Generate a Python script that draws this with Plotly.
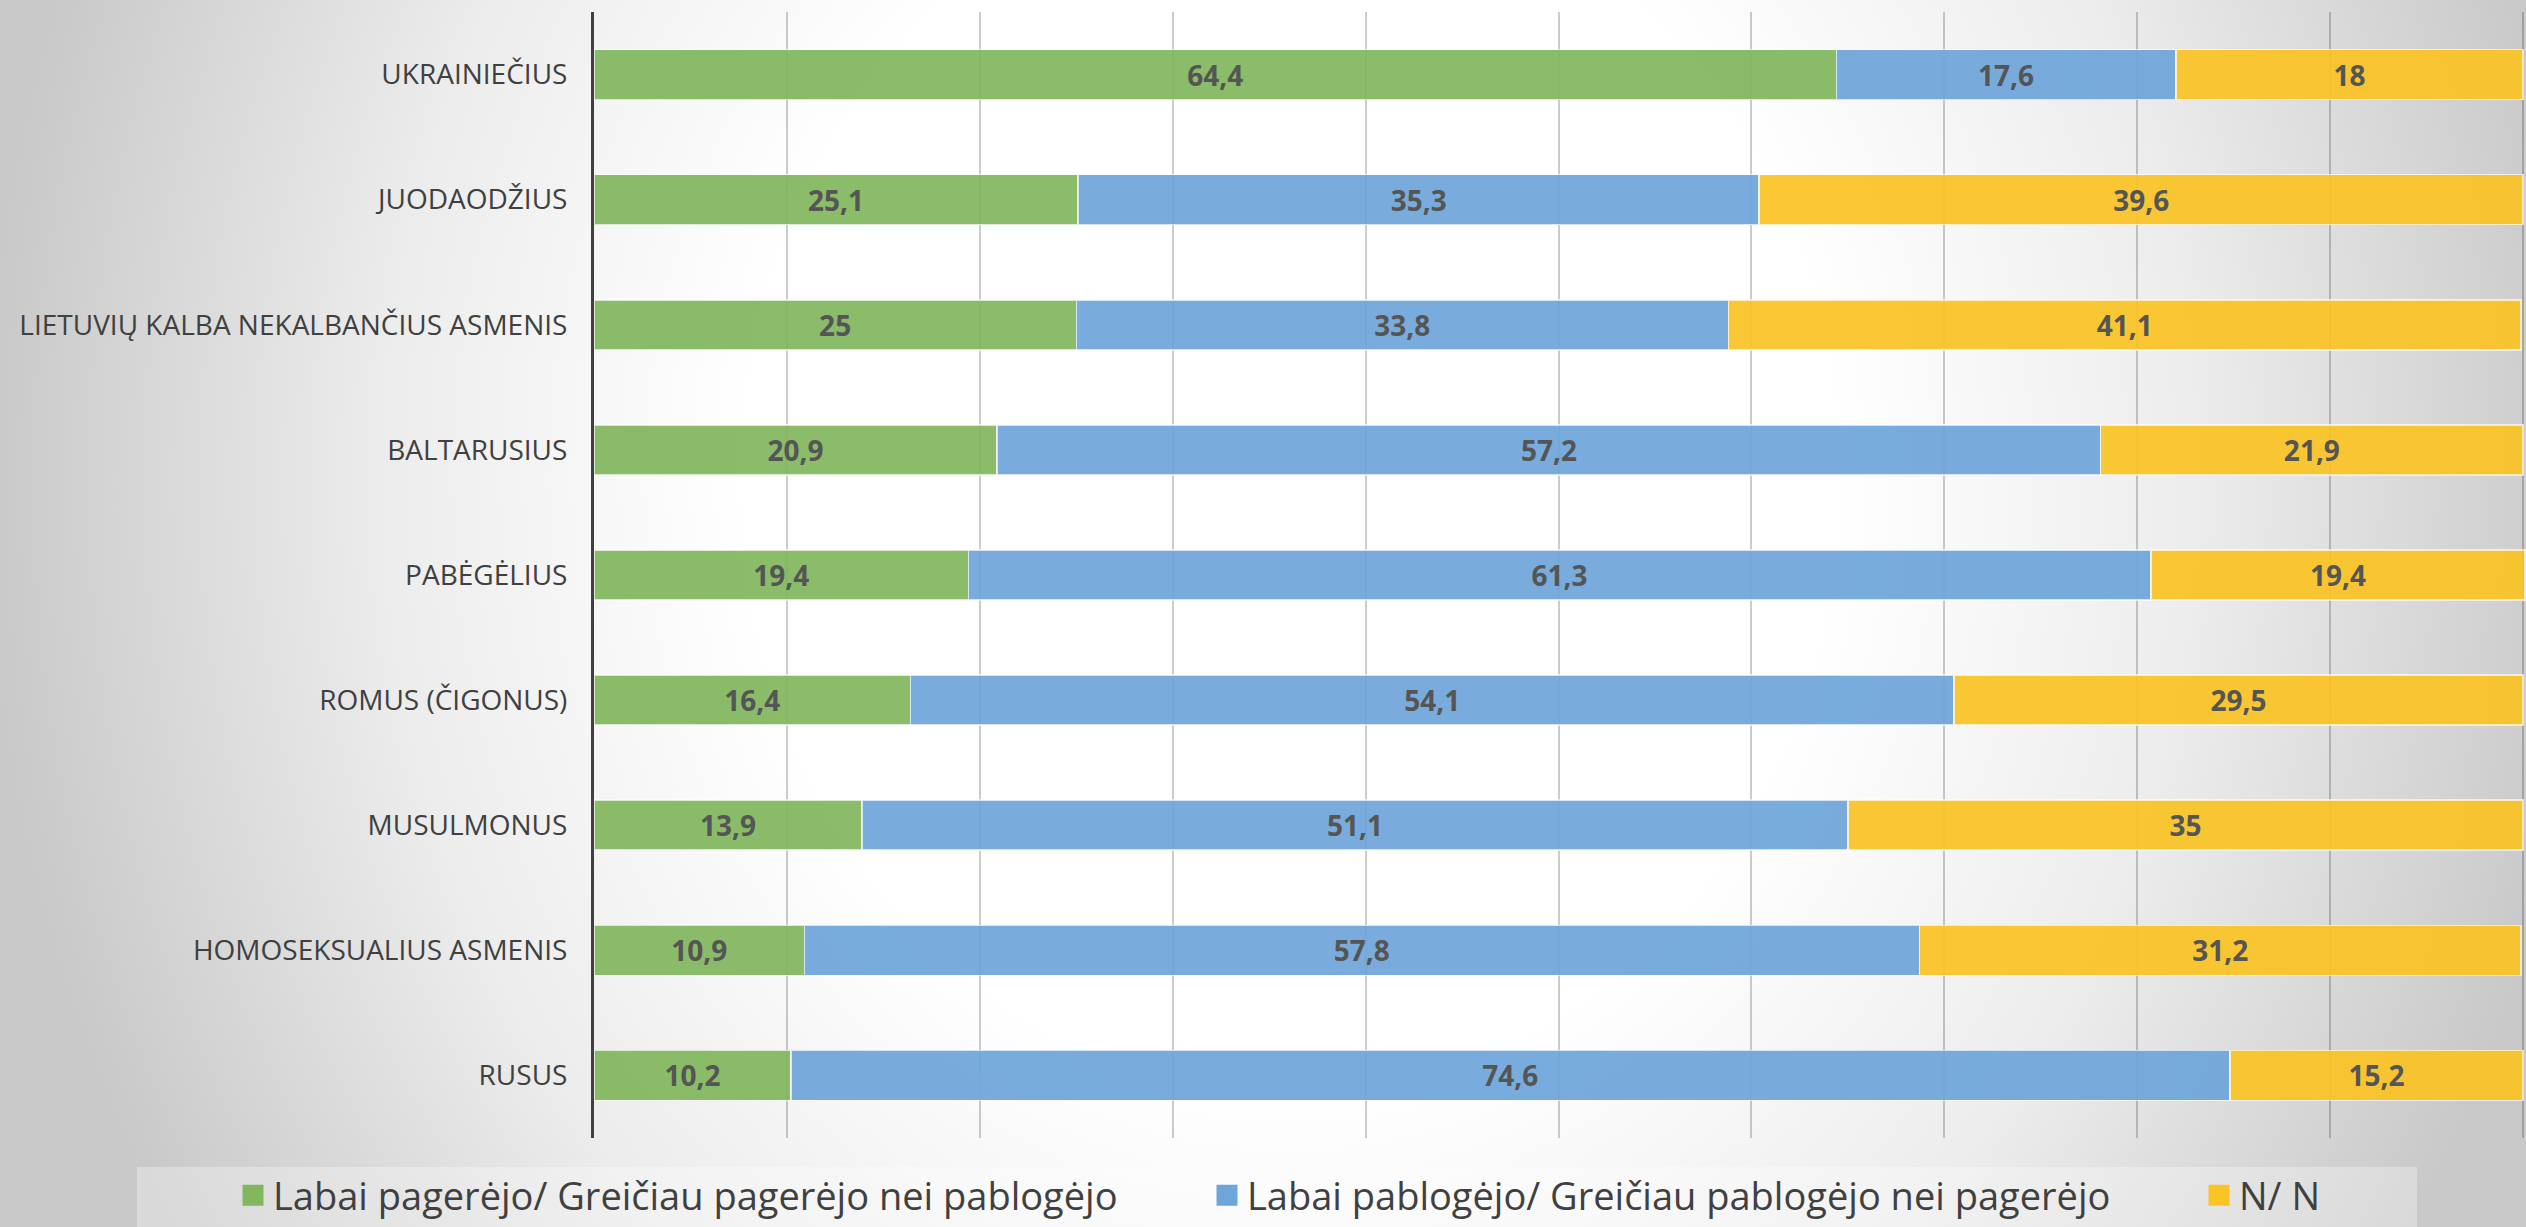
import base64
import plotly.graph_objects as go

categories = ["UKRAINIEČIUS", "JUODAODŽIUS", "LIETUVIŲ KALBA NEKALBANČIUS ASMENIS",
              "BALTARUSIUS", "PABĖGĖLIUS", "ROMUS (ČIGONUS)", "MUSULMONUS",
              "HOMOSEKSUALIUS ASMENIS", "RUSUS"]
improved = [64.4, 25.1, 25, 20.9, 19.4, 16.4, 13.9, 10.9, 10.2]
worsened = [17.6, 35.3, 33.8, 57.2, 61.3, 54.1, 51.1, 57.8, 74.6]
dont_know = [18, 39.6, 41.1, 21.9, 19.4, 29.5, 35, 31.2, 15.2]
series_names = ["Labai pagerėjo/ Greičiau pagerėjo nei pablogėjo",
                "Labai pablogėjo/ Greičiau pablogėjo nei pagerėjo",
                "N/ N"]
colors = ["#82b75e", "#6fa6da", "#fbc426"]

W, H = 2526, 1227
L, R, T, B = 594, 0, 12, 89
pw, ph = W - L - R, H - T - B

FONT = "Open Sans, sans-serif"

def lt(v):
    return f"{v:g}".replace(".", ",")

# gradient background as an svg picture (white in the middle, grey to the sides)
svg = f'''<svg xmlns="http://www.w3.org/2000/svg" width="{W}" height="{H}" preserveAspectRatio="none">
<defs><radialGradient id="g" gradientUnits="userSpaceOnUse" cx="1290" cy="480" r="1300"
gradientTransform="translate(1290 480) scale(1 1.12) translate(-1290 -480)">
<stop offset="0" stop-color="#ffffff"/><stop offset="0.42" stop-color="#ffffff"/>
<stop offset="0.7" stop-color="#ececec"/>
<stop offset="1" stop-color="#c9c9c9"/></radialGradient></defs>
<rect width="{W}" height="{H}" fill="url(#g)"/></svg>'''
bg_src = "data:image/svg+xml;base64," + base64.b64encode(svg.encode()).decode()

legend_ids = ["legend", "legend2", "legend3"]
legend_left = [233, 1207, 2199]  # pixel start of each legend entry

fig = go.Figure()
for name, vals, col, lg in zip(series_names, [improved, worsened, dont_know], colors, legend_ids):
    fig.add_trace(go.Bar(
        y=categories, x=vals, orientation="h", name=name, showlegend=False,
        marker=dict(color=col, opacity=0.93, line=dict(color="rgba(255,255,255,0.7)", width=1.5)),
        text=[lt(v) for v in vals], textposition="inside", insidetextanchor="middle",
        textfont=dict(family=FONT, size=28, color="#555555", weight="bold"),
        constraintext="none",
    ))
    # legend entry with a bigger square
    fig.add_trace(go.Scatter(
        x=[None], y=[None], mode="markers", name=name, legend=lg,
        marker=dict(symbol="square", size=16, color=col, line=dict(color=col, width=5)),
    ))

legends = {}
for lg, px in zip(legend_ids, legend_left):
    legends[lg] = dict(orientation="h", x=(px - L) / pw, xanchor="left", y=-B / ph,
                       yanchor="bottom", bgcolor="rgba(0,0,0,0)", borderwidth=0,
                       font=dict(size=38, color="#404040"))

fig.update_layout(
    width=W, height=H,
    margin=dict(l=L, r=R, t=T, b=B, autoexpand=False),
    barmode="stack", bargap=0.6,
    paper_bgcolor="#d4d4d4", plot_bgcolor="rgba(0,0,0,0)",
    font=dict(family=FONT, color="#404040"),
    xaxis=dict(range=[0, 100.15], tickvals=list(range(0, 101, 10)), showticklabels=False,
               showgrid=True, gridcolor="rgba(0,0,0,0.2)", gridwidth=1.5, zeroline=False,
               fixedrange=True),
    yaxis=dict(autorange="reversed", showline=True, linecolor="#404040", linewidth=3,
               tickfont=dict(size=28, color="#404040"), ticks="", ticklabelstandoff=18,
               showgrid=False),
    images=[dict(source=bg_src, xref="paper", yref="paper", x=-L / pw, y=1 + T / ph,
                 sizex=W / pw, sizey=H / ph, sizing="stretch", layer="below")],
    shapes=[dict(type="rect", xref="paper", yref="paper", x0=(137 - L) / pw, x1=(2417 - L) / pw,
                 y0=-B / ph, y1=(1138 - 1167) / ph, fillcolor="rgba(255,255,255,0.3)",
                 line=dict(width=0), layer="below")],
    **legends,
)

# drop the default page margin so the figure fills the window
fig.write_html("out.html", config={"displayModeBar": False},
               post_script="document.body.style.margin='0';")
